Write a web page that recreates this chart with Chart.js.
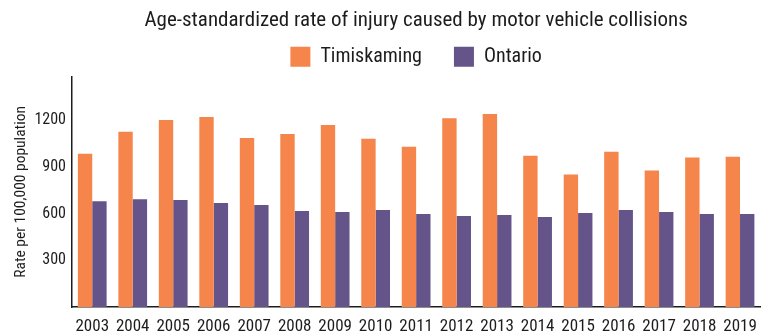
<!DOCTYPE html>
<html>
  <head>
    <style>
      html, body {
        margin: 0;
        padding: 0;
        background: #fff;
      }
      #chartContainer {
        width: 767px;
        height: 331px;
      }
    </style>
  </head>

  <body>
    <div id="chartContainer">
      <canvas id="myChart"></canvas>
    </div>

    <script src="https://cdn.jsdelivr.net/npm/chart.js"></script>
    <script>
      const ctx = document.getElementById('myChart');

      const years = ['2003', '2004', '2005', '2006', '2007', '2008', '2009', '2010', '2011',
                     '2012', '2013', '2014', '2015', '2016', '2017', '2018', '2019'];

      // rate per 100,000 population
      const timiskaming = [984, 1124, 1200, 1219, 1085, 1111, 1168, 1079, 1028,
                           1211, 1238, 971, 851, 997, 876, 959, 965];
      const ontario = [679, 692, 686, 667, 654, 616, 609, 622, 597,
                       584, 590, 577, 603, 622, 609, 597, 597];

      const yTicks = [300, 600, 900, 1200];

      const textColor = '#1c1c1c';

      Chart.defaults.font.family = '"Roboto Condensed", "DejaVu Sans Condensed", sans-serif';
      Chart.defaults.color = textColor;

      new Chart(ctx, {
        type: 'bar',
        data: {
          labels: years,
          datasets: [
            {
              label: 'Timiskaming',
              data: timiskaming,
              backgroundColor: '#f5854b'
            },
            {
              label: 'Ontario',
              data: ontario,
              backgroundColor: '#65548a'
            }
          ]
        },
        options: {
          responsive: true,
          maintainAspectRatio: false,
          animation: false,
          categoryPercentage: 0.71,
          barPercentage: 1.0,
          layout: {
            padding: { left: 0, right: -4, top: 0, bottom: 0 }
          },
          plugins: {
            tooltip: { enabled: false },
            title: {
              display: true,
              text: 'Age-standardized rate of injury caused by motor vehicle collisions',
              fullSize: false,
              color: textColor,
              font: { size: 21, weight: 'normal' },
              // legend sits close under the title
              padding: { top: 8, bottom: -18.5 }
            },
            legend: {
              fullSize: false,
              labels: {
                boxWidth: 20,
                boxHeight: 20,
                padding: 32,
                color: textColor,
                font: { size: 20 }
              }
            }
          },
          scales: {
            x: {
              grid: { display: false, drawTicks: false },
              border: { display: true, color: '#1c1c1c', width: 1.5 },
              ticks: {
                padding: 10,
                maxRotation: 0,
                autoSkip: false,
                font: { size: 17 }
              },
              afterFit: (scale) => { scale.height = 24; }
            },
            y: {
              min: 0,
              max: 1478,
              grid: { display: false, drawTicks: false },
              border: { display: true, color: '#1c1c1c', width: 1.5 },
              ticks: {
                padding: 6,
                font: { size: 16 },
                callback: (value) => String(value)
              },
              afterBuildTicks: (scale) => {
                scale.ticks = yTicks.map(v => ({ value: v }));
              },
              title: {
                display: true,
                text: 'Rate per 100,000 population',
                font: { size: 15.5 },
                padding: { top: 12, bottom: 0 }
              },
              afterFit: (scale) => { scale.width = 72; }
            }
          }
        }
      });
    </script>
  </body>
</html>
